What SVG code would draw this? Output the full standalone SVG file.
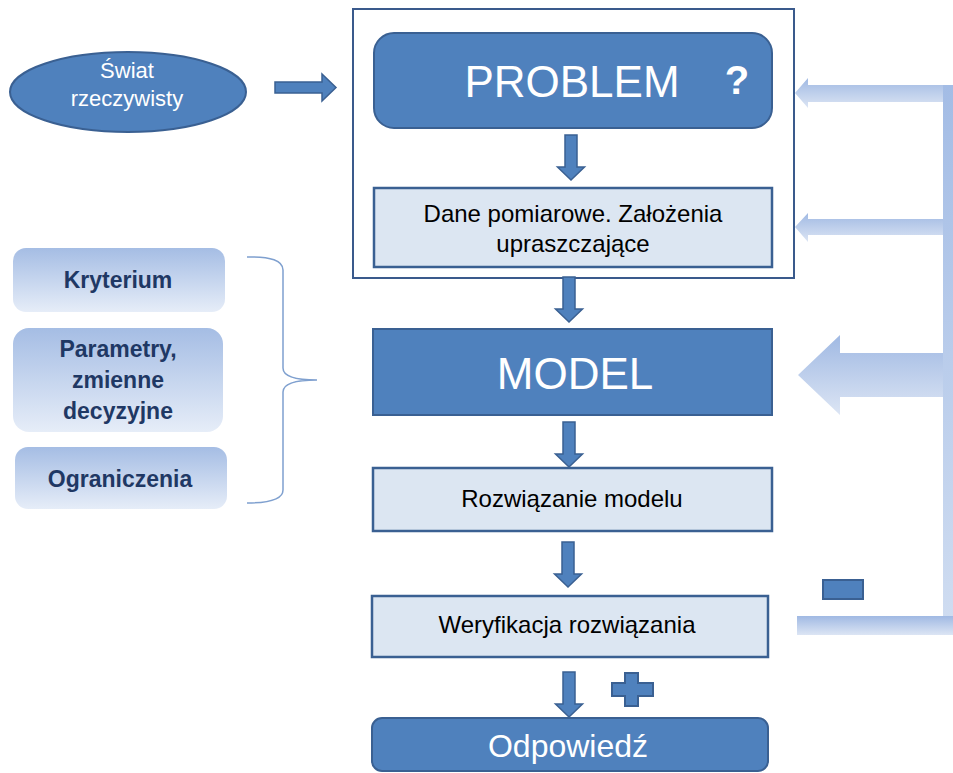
<svg xmlns="http://www.w3.org/2000/svg" width="953" height="773" viewBox="0 0 953 773">
  <style>
    text { font-family: "Liberation Sans", Arial, sans-serif; text-anchor: middle; }
    .dark { fill: #4f81bd; stroke: #3a6092; stroke-width: 2; }
    .light { fill: #dce6f2; stroke: #3a6092; stroke-width: 2.5; }
    .side { fill: url(#sideGrad); }
    .wt { fill: #ffffff; }
    .bk { fill: #000000; font-size: 24px; }
    .nv { fill: #1f3864; font-weight: bold; font-size: 23px; }
    .fb { fill: url(#fbGrad); }
    .conn { fill: #4f81bd; stroke: #3a6092; stroke-width: 1.5; }
  </style>
  <defs>
    <linearGradient id="sideGrad" x1="0" y1="0" x2="0" y2="1">
      <stop offset="0" stop-color="#a5bde4"/>
      <stop offset="1" stop-color="#e6edf8"/>
    </linearGradient>
    <linearGradient id="fbGrad" x1="0" y1="0" x2="0" y2="1">
      <stop offset="0" stop-color="#a0b9e3"/>
      <stop offset="1" stop-color="#dce5f4"/>
    </linearGradient>
    <linearGradient id="barGrad" x1="0" y1="0" x2="0" y2="1">
      <stop offset="0" stop-color="#a3bce5"/>
      <stop offset="1" stop-color="#d0ddf1"/>
    </linearGradient>
    <path id="down" d="M-6,0 H6 V32 H13.5 L0,45 L-13.5,32 H-6 Z"/>
  </defs>

  <!-- feedback loop on the right -->
  <g id="feedback">
    <rect x="943" y="85" width="20" height="550" fill="url(#barGrad)"/>
    <path class="fb" d="M795,93 L808,78 V85 H943 V102 H808 V108 Z"/>
    <path class="fb" d="M795,227 L808,213 V219 H943 V235 H808 V242 Z"/>
    <path class="fb" d="M798,375 L840,335 V353 H943 V397 H840 V415 Z"/>
    <rect class="fb" x="797" y="616" width="160" height="19"/>
  </g>

  <!-- outer frame around problem definition -->
  <g id="frame">
    <rect x="353" y="9" width="441" height="269" fill="none" stroke="#3a5a8c" stroke-width="2"/>
  </g>

  <g id="swiat">
    <ellipse class="dark" cx="128" cy="92" rx="118" ry="40"/>
    <text class="wt" x="127" y="78" font-size="22">Świat</text>
    <text class="wt" x="127" y="106" font-size="22">rzeczywisty</text>
  </g>

  <g id="problem">
    <rect class="dark" x="374" y="33" width="398" height="95" rx="20"/>
    <text class="wt" x="572" y="97" font-size="44">PROBLEM</text>
    <text class="wt" x="737" y="94" font-size="40" font-weight="bold">?</text>
  </g>

  <g id="dane">
    <rect class="light" x="374" y="188" width="398" height="79"/>
    <text class="bk" x="573" y="222">Dane pomiarowe. Założenia</text>
    <text class="bk" x="573" y="252">upraszczające</text>
  </g>

  <g id="model">
    <rect class="dark" x="373" y="329" width="399" height="86"/>
    <text class="wt" x="575" y="389" font-size="44">MODEL</text>
  </g>

  <g id="rozwiazanie">
    <rect class="light" x="373" y="468" width="399" height="63"/>
    <text class="bk" x="572" y="507">Rozwiązanie modelu</text>
  </g>

  <g id="weryfikacja">
    <rect class="light" x="372" y="596" width="396" height="61"/>
    <text class="bk" x="567" y="633">Weryfikacja rozwiązania</text>
  </g>

  <g id="odpowiedz">
    <rect class="dark" x="372" y="718" width="396" height="53" rx="10"/>
    <text class="wt" x="568" y="757" font-size="32">Odpowiedź</text>
  </g>

  <g id="minus">
    <rect class="dark" x="823" y="580" width="40" height="19"/>
  </g>

  <g id="plus">
    <path class="dark" d="M625,673 H638 V683 H653 V696 H638 V706 H625 V696 H612 V683 H625 Z"/>
  </g>

  <g id="kryterium">
    <rect class="side" x="13" y="248" width="212" height="64" rx="13"/>
    <text class="nv" x="118" y="288">Kryterium</text>
  </g>

  <g id="parametry">
    <rect class="side" x="13" y="328" width="210" height="104" rx="16"/>
    <text class="nv" x="118" y="357">Parametry,</text>
    <text class="nv" x="118" y="388">zmienne</text>
    <text class="nv" x="118" y="419">decyzyjne</text>
  </g>

  <g id="ograniczenia">
    <rect class="side" x="15" y="447" width="212" height="62" rx="13"/>
    <text class="nv" x="120" y="487">Ograniczenia</text>
  </g>

  <g id="connectors">
    <path class="conn" d="M275,82 H322 V74 L336,87.5 L322,101 V93 H275 Z"/>
    <use href="#down" class="conn" transform="translate(571,135)"/>
    <use href="#down" class="conn" transform="translate(569,277)"/>
    <use href="#down" class="conn" transform="translate(569,422)"/>
    <use href="#down" class="conn" transform="translate(568,542)"/>
    <use href="#down" class="conn" transform="translate(569,672)"/>
    <path d="M247,257 Q283,256 283,270 L283,368 Q283,380 317,380 Q283,380 283,392 L283,490 Q283,503 247,503" fill="none" stroke="#7fa0cf" stroke-width="1.5"/>
  </g>
</svg>
